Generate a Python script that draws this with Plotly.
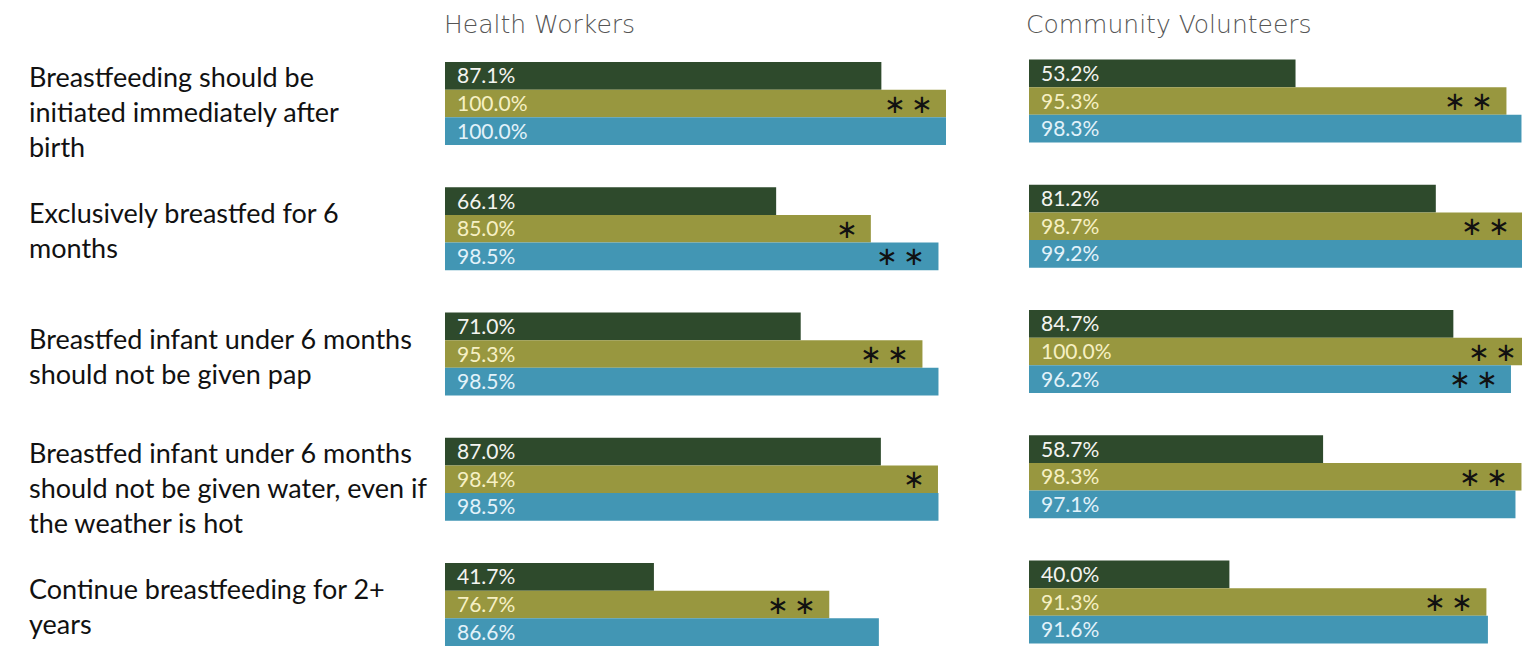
import plotly.graph_objects as go

categories = [
    "Breastfeeding should be<br>initiated immediately after<br>birth",
    "Exclusively breastfed for 6<br>months",
    "Breastfed infant under 6 months<br>should not be given pap",
    "Breastfed infant under 6 months<br>should not be given water, even if<br>the weather is hot",
    "Continue breastfeeding for 2+<br>years",
]
panel_titles = ["Health Workers", "Community Volunteers"]

# three series per panel (top, middle, bottom bar in each group)
hw_s1 = [87.1, 66.1, 71.0, 87.0, 41.7]
hw_s2 = [100.0, 85.0, 95.3, 98.4, 76.7]
hw_s3 = [100.0, 98.5, 98.5, 98.5, 86.6]
cv_s1 = [53.2, 81.2, 84.7, 58.7, 40.0]
cv_s2 = [95.3, 98.7, 100.0, 98.3, 91.3]
cv_s3 = [98.3, 99.2, 96.2, 97.1, 91.6]

# significance markers
hw_sig2 = ["**", "*", "**", "*", "**"]
hw_sig3 = ["", "**", "", "", ""]
cv_sig2 = ["**", "**", "**", "**", "**"]
cv_sig3 = ["", "", "**", "", ""]

colors = ["#2e4a2c", "#98973f", "#4296b4"]
text_colors = ["#f4f4f0", "#f6f0c4", "#e2f2fa"]

VIEW_W, H = 1522, 647
W = 1536  # figure a bit wider than the window; right edge is cropped as in the source
BW = 27.7 / 125.25
offsets = [-BW, 0.0, BW]

fig = go.Figure()
annotations = []

panels = [
    ("x", "y", [hw_s1, hw_s2, hw_s3], [None, hw_sig2, hw_sig3]),
    ("x2", "y2", [cv_s1, cv_s2, cv_s3], [None, cv_sig2, cv_sig3]),
]

for xa, ya, series, sigs in panels:
    for j, vals in enumerate(series):
        ys = [i + offsets[j] for i in range(len(vals))]
        fig.add_trace(go.Bar(
            x=vals, y=ys, orientation="h", width=BW,
            marker=dict(color=colors[j], line=dict(width=0)),
            xaxis=xa, yaxis=ya, showlegend=False, hoverinfo="skip",
            cliponaxis=True,
        ))
        for i, v in enumerate(vals):
            annotations.append(dict(
                x=0, y=ys[i], xref=xa, yref=ya, xanchor="left", yanchor="middle",
                xshift=10, yshift=1, showarrow=False, text=f"{v:.1f}%",
                font=dict(family="Lato", size=21, color=text_colors[j]),
            ))
            if sigs[j] is not None and sigs[j][i]:
                s = sigs[j][i]
                annotations.append(dict(
                    x=v, y=ys[i], xref=xa, yref=ya, xanchor="right", yanchor="middle",
                    xshift=-11, yshift=0, showarrow=False,
                    text="\u2009".join(["\u2217"] * len(s)),
                    font=dict(family="DejaVu Sans", size=26, color="#111111"),
                ))

# category labels
for i, c in enumerate(categories):
    n = c.count("<br>") + 1
    annotations.append(dict(
        x=27 / W, y=i, xref="paper", yref="y", xanchor="left", yanchor="middle",
        yshift=-1.5 - 6.5 * (n - 2), showarrow=False, align="left", text=c,
        font=dict(family="Lato", size=27, color="#111111"),
    ))

# panel titles
for t, xp in zip(panel_titles, [442 / W, 1024 / W]):
    annotations.append(dict(
        x=xp, y=1 - 25 / H, xref="paper", yref="paper", xanchor="left", yanchor="middle",
        showarrow=False, text=t,
        font=dict(family="DejaVu Sans Light, DejaVu Sans", size=25, color="#555555"),
    ))

px_per = (946 - 445) / 100.0
fig.update_layout(
    width=W, height=H,
    margin=dict(l=0, r=0, t=0, b=0),
    paper_bgcolor="white", plot_bgcolor="white",
    barmode="overlay",
    xaxis=dict(domain=[445 / W, 946 / W], range=[0, 100], visible=False),
    yaxis=dict(domain=[0, 1], range=[(H - 103.5) / 125.25, -103.5 / 125.25], visible=False),
    xaxis2=dict(domain=[1029 / W, 1.0], range=[0, (W - 1029) / px_per], visible=False, anchor="y2"),
    yaxis2=dict(domain=[0, 1], range=[(H - 101) / 125.25, -101 / 125.25], visible=False, anchor="x2"),
    annotations=annotations,
)

fig.write_html(
    "out.html",
    config={"displayModeBar": False},
    post_script="document.body.style.margin='0';document.body.style.overflow='hidden';"
                "document.documentElement.style.overflow='hidden';",
)
